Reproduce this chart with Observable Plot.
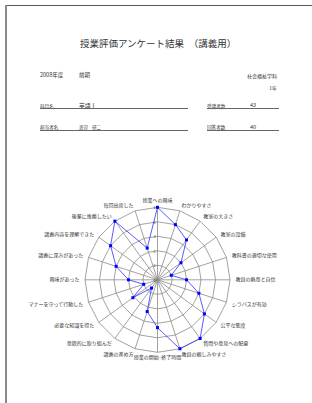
<!DOCTYPE html>
<html><head><meta charset="utf-8">
<script src="https://cdn.jsdelivr.net/npm/d3@7"></script>
<script src="https://cdn.jsdelivr.net/npm/@observablehq/plot@0.6"></script>
<style>
html,body{margin:0;padding:0;background:#fff}
body{width:312px;height:403px;position:relative;overflow:hidden;font-family:"Noto Sans CJK JP",sans-serif;color:#333}
.t{position:absolute;white-space:nowrap;line-height:1}
.rule{position:absolute;height:0;border-top:1px solid #666}
#chart{position:absolute;left:0;top:185px}
</style></head><body>
<div style="position:absolute;left:5px;top:5px;right:0;height:1px;background:#555"></div>
<div style="position:absolute;left:5px;top:5px;width:2px;bottom:0;background:#8a8a8a"></div>

<div class="t" style="left:80px;top:38.5px;font-size:9.5px">授業評価アンケート結果　（講義用）</div>
<div class="t" style="left:40px;top:73.3px;font-size:5.5px">2008年度</div>
<div class="t" style="left:79px;top:73.3px;font-size:5.5px">前期</div>
<div class="t" style="right:35px;top:73.3px;font-size:5px">社会福祉学科</div>
<div class="t" style="right:35px;top:85.3px;font-size:5px">1年</div>

<div class="t" style="left:40px;top:103.7px;font-size:4.6px">科目名</div>
<div class="t" style="left:79px;top:102.8px;font-size:5.8px">英語Ⅰ</div>
<div class="rule" style="left:40px;width:148px;top:108px"></div>
<div class="t" style="left:207px;top:103.7px;font-size:4.6px">受講者数</div>
<div class="t" style="left:250px;top:103px;font-size:5.5px">43</div>
<div class="rule" style="left:207px;width:71.5px;top:108px"></div>

<div class="t" style="left:40px;top:125.2px;font-size:4.6px">担当者名</div>
<div class="t" style="left:79px;top:124.8px;font-size:4.4px">渡辺　研二</div>
<div class="rule" style="left:40px;width:148px;top:129.5px"></div>
<div class="t" style="left:207px;top:125.2px;font-size:4.6px">回答者数</div>
<div class="t" style="left:250px;top:124.5px;font-size:5.5px">40</div>
<div class="rule" style="left:207px;width:71.5px;top:129.5px"></div>

<div id="chart"></div>
<script>
const axisLabels = ["授業への興味","わかりやすさ","教室の大きさ","教室の設備","教科書の適切な使用","教員の熱意と自信","シラバスが有効","公平な態度","質問や意見への配慮","教員の親しみやすさ","授業の開始･終了時間","講義の進め方","意欲的に取り組んだ","必要な知識を得た","マナーを守って行動した","興味があった","講義に深みがあった","講義内容を理解できた","後輩に推薦したい","毎回出席した"];
const scores = [5, 4, 3.4, 2, 1, 2, 3, 4, 5, 5, 3.3, 2.3, 0.7, 2.1, 1, 2, 3, 4, 5, 2.3];
const ringLevels = [1, 2, 3, 4, 5];
const tickValues = [0, 1, 2, 3, 4, 5];

// layout
const W = 312, H = 185, cxPx = 157, cyPx = 94.3, unit = 14.5;
const maxV = 5, labelR = 5.38;
const n = axisLabels.length;
const ang = i => i * 2 * Math.PI / n;
const px = (v, i) => v * Math.sin(ang(i));
const py = (v, i) => v * Math.cos(ang(i));

const ringData = ringLevels.flatMap(l => d3.range(n + 1).map(i => ({l, x: px(l, i % n), y: py(l, i % n)})));
const spokes = axisLabels.map((t, i) => ({x2: px(maxV, i), y2: py(maxV, i)}));
const pts = scores.map((v, i) => ({v, x: px(v, i), y: py(v, i)}));
const loop = [...pts, pts[0]];
const labs = axisLabels.map((t, i) => ({t, i, x: px(labelR, i), y: py(labelR, i)}));
const right = labs.filter(d => d.i > 0 && d.i < n / 2);
const left = labs.filter(d => d.i > n / 2);
const top0 = axisLabels.map((t, i) => ({t, i, x: px(5.36, i), y: py(5.36, i)})).filter(d => d.i === 0);
const bottom = axisLabels.map((t, i) => ({t, i, x: px(5.2, i), y: py(5.2, i)})).filter(d => d.i === n / 2);

const chart = Plot.plot({
  width: W, height: H, margin: 0,
  style: {background: "transparent", overflow: "visible", fontFamily: "'Noto Sans CJK JP', sans-serif"},
  x: {domain: [-cxPx / unit, (W - cxPx) / unit], axis: null},
  y: {domain: [-(H - cyPx) / unit, cyPx / unit], axis: null},
  marks: [
    Plot.line(ringData, {x: "x", y: "y", z: "l", stroke: "#8a8a8a", strokeWidth: 0.8}),
    Plot.link(spokes, {x1: 0, y1: 0, x2: "x2", y2: "y2", stroke: "#8a8a8a", strokeWidth: 0.8}),
    Plot.text(tickValues, {x: 0, y: d => d, text: d => String(d), textAnchor: "end", dx: -2, dy: 0.5, fontSize: 3.8, fill: "#333"}),
    Plot.line(loop, {x: "x", y: "y", stroke: "#3030ff", strokeWidth: 0.8}),
    Plot.dot(pts, {x: "x", y: "y", symbol: "square", r: 1.7, fill: "#0000ff", stroke: "none"}),
    Plot.text(right, {x: "x", y: "y", text: "t", textAnchor: "start", fontSize: 5, fill: "#333"}),
    Plot.text(left, {x: "x", y: "y", text: "t", textAnchor: "end", fontSize: 5, fill: "#333"}),
    Plot.text(top0, {x: "x", y: "y", text: "t", textAnchor: "middle", lineAnchor: "bottom", fontSize: 5, fill: "#333"}),
    Plot.text(bottom, {x: "x", y: "y", text: "t", textAnchor: "middle", lineAnchor: "top", fontSize: 5, fill: "#333"})
  ]
});
document.getElementById("chart").appendChild(chart);
</script>
</body></html>
